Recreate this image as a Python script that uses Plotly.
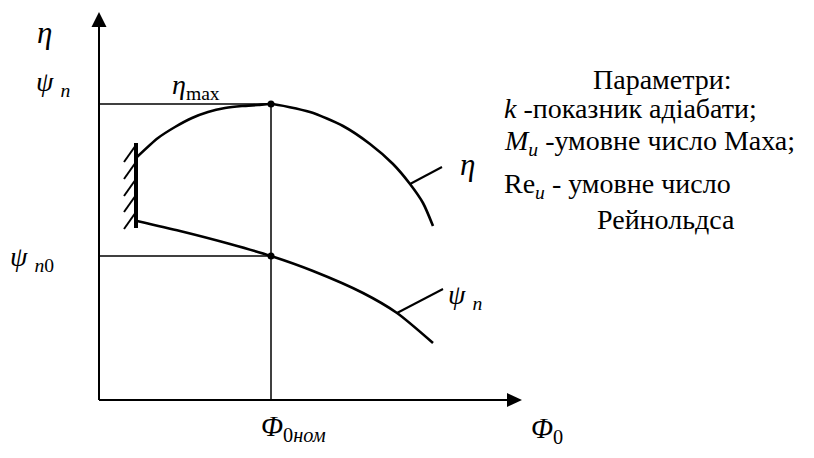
import plotly.graph_objects as go

# Characteristic curves of a compressor stage (schematic units)
eta_phi = [38, 59, 76, 93, 109, 126, 143, 159, 172, 211, 244, 271, 294, 311, 324, 334]
eta_val = [243, 262, 273, 282, 288, 292, 294, 295, 296, 288, 274, 256, 236, 216, 197, 174]

psi_phi = [38, 81, 131, 172, 214, 264, 298, 334]
psi_val = [179, 169, 156, 144, 129, 107, 87, 57]

# Nominal operating point
phi_nom = 172
eta_max = 296
psi_0 = 144

# Surge boundary (hatched wall)
wall_phi = 37
wall_top, wall_bottom = 257, 172
hatch_tops = [255, 238, 221, 205, 188]

# Callout ticks for curve labels: (phi on curve, value on curve, phi end, value end)
eta_tick = (311, 216, 343, 233)
psi_tick = (298, 87, 344, 111)

x_axis_end = 423
y_axis_end = 388

FONT = "Liberation Serif, Times New Roman, serif"
BLACK = "black"

fig = go.Figure()

# Curves
for xs, ys in ((eta_phi, eta_val), (psi_phi, psi_val)):
    fig.add_trace(go.Scatter(x=xs, y=ys, mode="lines",
                             line=dict(color=BLACK, width=2.6, shape="spline", smoothing=0.7),
                             hoverinfo="skip", showlegend=False))

shapes = []
# Axes
shapes.append(dict(type="line", x0=0, y0=0, x1=x_axis_end - 14, y1=0,
                   line=dict(color=BLACK, width=2)))
shapes.append(dict(type="line", x0=0, y0=0, x1=0, y1=y_axis_end - 14,
                   line=dict(color=BLACK, width=2)))
shapes.append(dict(type="path",
                   path=f"M {x_axis_end} 0 L {x_axis_end - 15} 7 L {x_axis_end - 15} -7 Z",
                   fillcolor=BLACK, line=dict(color=BLACK, width=0)))
shapes.append(dict(type="path",
                   path=f"M 0 {y_axis_end} L -7.5 {y_axis_end - 15} L 7.5 {y_axis_end - 15} Z",
                   fillcolor=BLACK, line=dict(color=BLACK, width=0)))

# Guide lines to the nominal point
shapes.append(dict(type="line", x0=0, y0=eta_max, x1=phi_nom, y1=eta_max,
                   line=dict(color=BLACK, width=1.5)))
shapes.append(dict(type="line", x0=0, y0=psi_0, x1=phi_nom, y1=psi_0,
                   line=dict(color=BLACK, width=1.5)))
shapes.append(dict(type="line", x0=phi_nom, y0=0, x1=phi_nom, y1=eta_max,
                   line=dict(color=BLACK, width=1.5)))

# Hatched surge wall
shapes.append(dict(type="line", x0=wall_phi, y0=wall_bottom, x1=wall_phi, y1=wall_top,
                   line=dict(color=BLACK, width=4)))
for t in hatch_tops:
    shapes.append(dict(type="line", x0=wall_phi, y0=t, x1=wall_phi - 12, y1=t - 17,
                       line=dict(color=BLACK, width=2)))

# Label callouts
for (x0, y0, x1, y1) in (eta_tick, psi_tick):
    shapes.append(dict(type="line", x0=x0, y0=y0, x1=x1, y1=y1,
                       line=dict(color=BLACK, width=2)))

fig.update_layout(shapes=shapes)

# Nominal point markers
fig.add_trace(go.Scatter(x=[phi_nom, phi_nom], y=[eta_max, psi_0], mode="markers",
                         marker=dict(color=BLACK, size=7),
                         hoverinfo="skip", showlegend=False))


def label(x, y, text, size=27, xanchor="center"):
    fig.add_annotation(x=x, y=y, text=text, showarrow=False, xanchor=xanchor,
                       yanchor="middle", font=dict(family=FONT, size=size, color=BLACK))


label(-55, 368, "<i>η</i>", 31)
label(-46, 317, "<i>ψ</i> <sub><i>n</i></sub>", 28)
label(97, 314, "<i>η</i><sub>max</sub>", 28)
label(-67, 142, "<i>ψ</i> <sub><i>n</i>0</sub>", 28)
label(194, -28, "<i>Φ</i><sub>0<i>ном</i></sub>", 29)
label(448, -30, "<i>Φ</i><sub>0</sub>", 29)
label(368, 236, "<i>η</i>", 31)
label(366, 104, "<i>ψ</i> <sub><i>n</i></sub>", 28)

label(563, 321, "Параметри:", 28)
label(403, 292, "<i>k</i> -показник адіабати;", 28, "left")
label(403, 258, "<i>M</i><sub><i>u</i></sub> -умовне число Маха;", 28, "left")
label(403, 215, "Re<sub><i>u</i></sub> - умовне число", 28, "left")
label(567, 181, "Рейнольдса", 28)

fig.update_xaxes(range=[-99, 715], visible=False, fixedrange=True)
fig.update_yaxes(range=[-58, 400], visible=False, fixedrange=True)
fig.update_layout(width=814, height=458, margin=dict(l=0, r=0, t=0, b=0),
                  paper_bgcolor="white", plot_bgcolor="white", showlegend=False)

fig.write_html("out.html")
